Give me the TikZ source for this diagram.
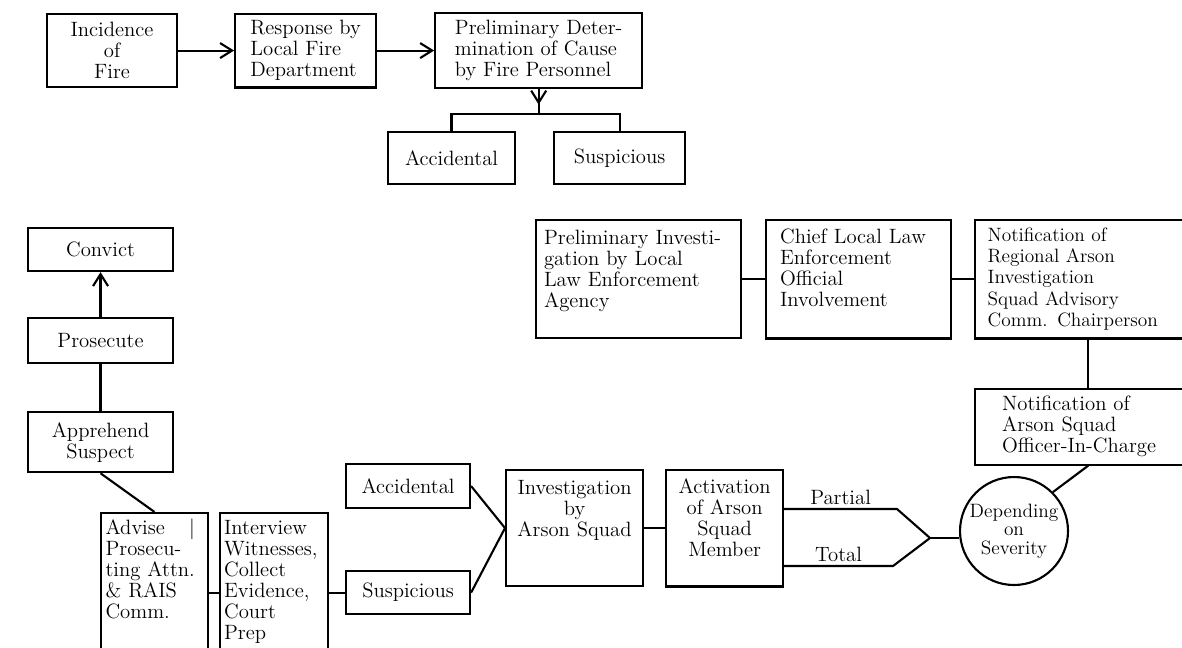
\documentclass[tikz,border=0pt]{standalone}
\usetikzlibrary{arrows.meta,positioning,decorations.markings}

\begin{document}
\begin{tikzpicture}[x=0.02cm, y=-0.02cm,
  box/.style={rectangle, draw=black, line width=1.2pt, inner sep=0pt, align=center,
    font=\fontsize{11.8}{12}\selectfont},
  lbox/.style={box, align=left},
  tbox/.style={box, text height=2.6mm, inner ysep=2.2mm, text depth=#1},
  wire/.style={black, line width=1.2pt},
  arr/.style={wire, -{Straight Barb[length=2.4mm,width=3mm]}},
  midarr/.style={wire, postaction={decorate}, decoration={markings,
    mark=at position 0.62 with {\arrow{Straight Barb[length=2.4mm,width=3mm]}}}},
  lbl/.style={inner sep=0.7mm, font=\fontsize{11.8}{12}\selectfont}]
\useasboundingbox (0,0) rectangle (1182,647);

% fire incident and first response
\node[box, anchor=north west, minimum width=26mm, minimum height=14.6mm] (inc) at (46,13) {Incidence\\of\\Fire};
\node[lbox, minimum width=28.2mm, minimum height=14.8mm, right=11.2mm of inc] (resp) {Response by\\Local Fire\\Department};
\node[lbox, minimum width=41.4mm, minimum height=15mm, right=11.4mm of resp] (pdc) {Preliminary Deter-\\mination of Cause\\by Fire Personnel};
\coordinate[below=5mm of pdc] (split);
\node[box, anchor=north west, minimum width=25.4mm, minimum height=10.4mm] (acc1) at (387,131) {Accidental};
\node[box, minimum width=26.2mm, minimum height=10.4mm, right=7.4mm of acc1] (sus1) {Suspicious};
\draw[arr] (inc.east) -- (inc.east -| resp.west);
\draw[arr] (resp.east) -- (resp.east -| pdc.west);
\draw[midarr] (pdc.south) -- (split);
\draw[wire] (acc1.north) |- (split) -| (sus1.north);

% law enforcement chain
\node[tbox=16.6mm, align=left, anchor=north west, text width=37.8mm, inner xsep=1.6mm] (pia) at (535,219) {Preliminary Investi-\\gation by Local\\Law Enforcement\\Agency};
\node[tbox=16.8mm, align=left, text width=31.4mm, inner xsep=2.8mm, right=4.6mm of pia] (chief) {Chief Local Law\\Enforcement\\Official\\Involvement};
\node[lbox, text width=40.2mm, inner xsep=2.5mm, minimum height=23.8mm, right=4.4mm of chief,
  font=\fontsize{11}{12}\selectfont] (reg) {Notification of\\Regional Arson\\Investigation\\Squad Advisory\\Comm. Chairperson};
\node[lbox, text width=34.4mm, inner xsep=5.4mm, minimum height=15.2mm, below=9.6mm of reg] (oic) {Notification of\\Arson Squad\\Officer-In-Charge};
\draw[wire] (pia.east) -- (pia.east -| chief.west);
\draw[wire] (chief) -- (reg);
\draw[wire] (reg) -- (oic);

% severity
\node[box, circle, minimum size=21.6mm, font=\fontsize{11}{10.5}\selectfont] (sev) at (1014,531) {Depending\\on\\Severity};
\draw[wire] (sev.45) -- (oic.south);

% arson squad
\node[box, anchor=north west, minimum width=24.8mm, minimum height=8.8mm] (acc2) at (345,463) {Accidental};
\node[box, minimum width=24.8mm, minimum height=8.6mm, below=12.2mm of acc2] (sus2) {Suspicious};
\node[tbox=16.2mm, anchor=north west, text width=24.4mm, inner xsep=1.5mm] (inv) at (505,469) {Investigation\\by\\Arson Squad};
\node[tbox=16.4mm, text width=20.4mm, inner xsep=1.5mm, right=4.2mm of inv] (act) {Activation\\of Arson\\Squad\\Member};
\coordinate (pbend) at (897,509);
\coordinate (tbend) at (893,566);
\coordinate (jn) at (930,538);
\draw[wire] (acc2.east) -- (inv.west) -- (sus2.east);
\draw[wire] (inv) -- (act);
\draw[wire] (act.east |- pbend) -- node[lbl, above] (part) {Partial} (pbend) -- (jn);
\draw[wire] (act.east |- tbend) -- node[lbl, above] (tot) {Total} (tbend) -- (jn);
\draw[wire] (jn) -- (jn -| sev.west);

% evidence and prosecution
\node[tbox=21.6mm, inner ysep=1.6mm, align=left, anchor=north west, text width=19.6mm, inner xsep=0.9mm] (adv) at (100,512) {Advise\quad\,|\\Prosecu-\\ting Attn.\\\& RAIS\\Comm.};
\node[tbox=21.6mm, inner ysep=1.6mm, align=left, text width=20mm, inner xsep=0.8mm, right=2mm of adv] (intv) {Interview\\Witnesses,\\Collect\\Evidence,\\Court\\Prep};
\draw[wire] (adv.east |- sus2.west) -- (intv.west |- sus2.west);
\draw[wire] (intv.east |- sus2.west) -- (sus2.west);
\node[box, anchor=north west, minimum width=29mm, minimum height=8.6mm] (conv) at (27,227) {Convict};
\node[box, minimum width=29mm, minimum height=9mm, below=9mm of conv] (pros) {Prosecute};
\node[box, minimum width=29mm, minimum height=12mm, below=9.4mm of pros] (appr) {Apprehend\\Suspect};
\draw[arr] (pros) -- (conv);
\draw[wire] (appr) -- (pros);
\draw[wire] (appr.south) -- (adv.north);
\end{tikzpicture}
\end{document}
